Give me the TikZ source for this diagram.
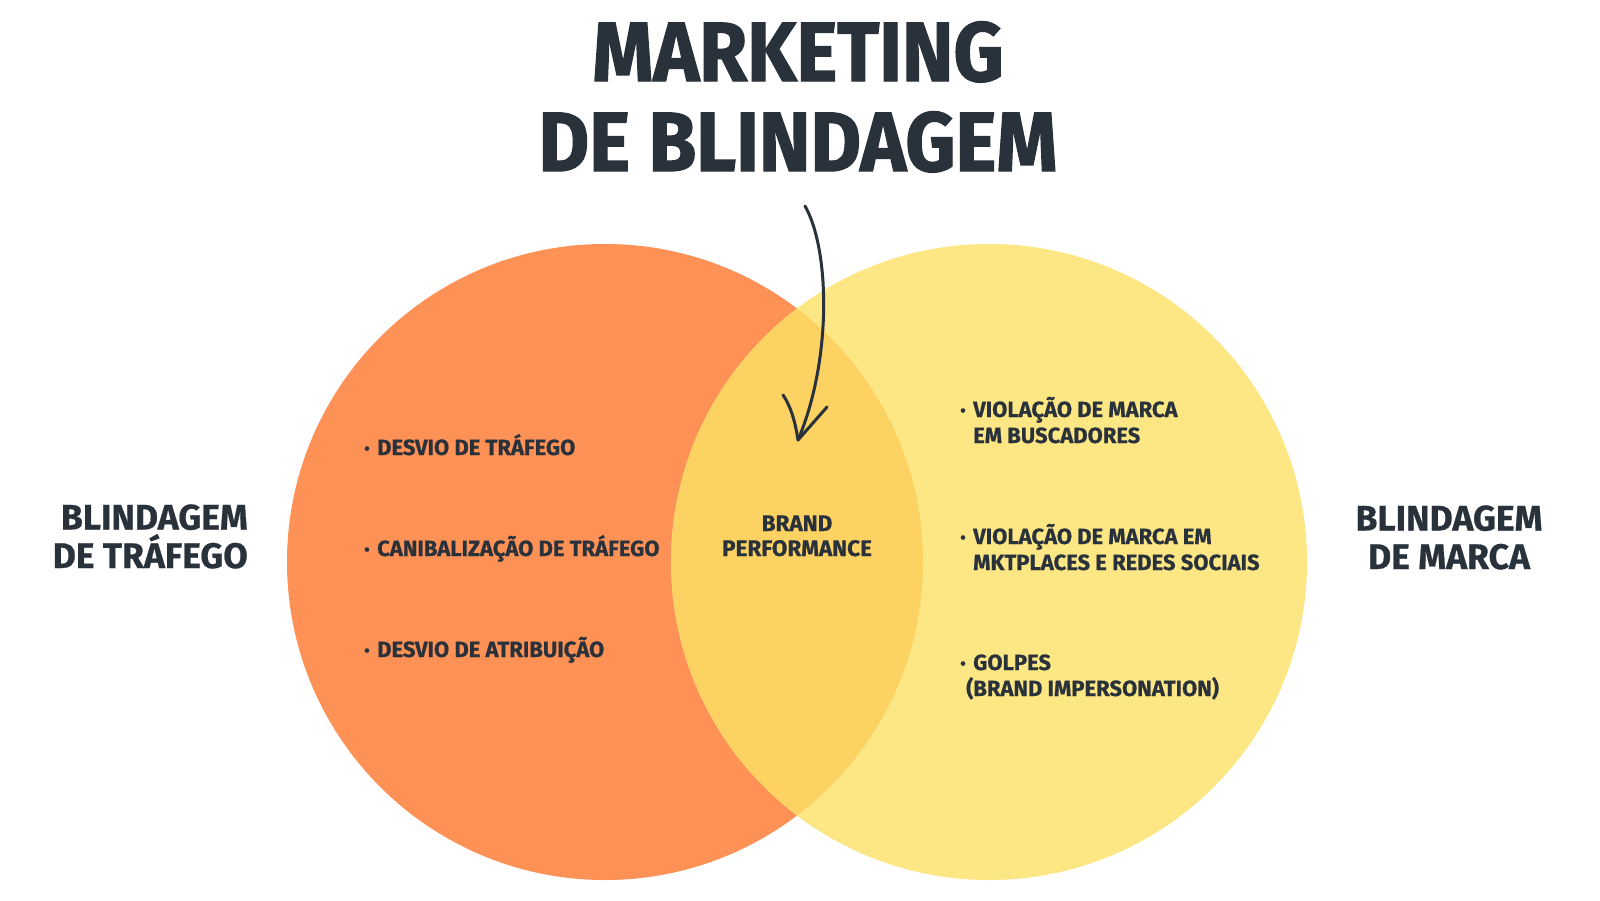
\documentclass[tikz,border=0pt]{standalone}
\usepackage{fontspec}
\setmainfont{Fira Sans}[FakeBold=0.6]
\newfontfamily\titlefont{Fira Sans}[FakeStretch=0.925,FakeBold=1.5]
\definecolor{ink}{HTML}{29313B}
\definecolor{orangec}{HTML}{FE9156}
\definecolor{yellowc}{HTML}{FDE684}
\definecolor{overlapc}{HTML}{FCD363}
\newcommand{\bul}{\makebox[13pt][l]{\fontsize{16}{16}\selectfont\raisebox{1pt}{•}}}
\begin{document}
\begin{tikzpicture}[x=1pt,y=-1pt,
  txt/.style={text=ink,font=\bfseries,inner sep=0pt},
  title/.style={txt,font=\titlefont\fontsize{84}{90}\selectfont\bfseries,align=center},
  side/.style={txt,font=\fontsize{35.5}{38.5}\selectfont\bfseries},
  item/.style={txt,font=\fontsize{22}{26}\selectfont\bfseries,align=left,anchor=base west},
  arrowline/.style={draw=ink,line width=3pt,line cap=round,line join=round}]
\useasboundingbox (0,0) rectangle (1600,900);
\fill[white] (0,0) rectangle (1600,900);
% circles
\fill[orangec] (605,562) circle[radius=318];
\fill[yellowc] (989,562) circle[radius=318];
\begin{scope}
  \clip (605,562) circle[radius=318];
  \fill[overlapc] (989,562) circle[radius=318];
\end{scope}
% title
\node[title,anchor=base] (t) at (798,171) {MARKETING\\DE BLINDAGEM};
% side labels
\node[side,anchor=base east,align=right] (sl) at (248,568) {BLINDAGEM\\DE TRÁFEGO};
\node[side,anchor=base,align=center] (sr) at (1449,569) {BLINDAGEM\\DE MARCA};
% center
\node[txt,font=\fontsize{22.5}{25}\selectfont\bfseries,align=center,anchor=base] (c) at (797,556) {BRAND\\PERFORMANCE};
% left items
\node[item] (l1) at (364,455) {\bul DESVIO DE TRÁFEGO};
\node[item] (l2) at (364,556) {\bul CANIBALIZAÇÃO DE TRÁFEGO};
\node[item] (l3) at (364,657) {\bul DESVIO DE ATRIBUIÇÃO};
% right items
\node[item] (r1) at (960,443) {\bul VIOLAÇÃO DE MARCA\\\hspace{13pt}EM BUSCADORES};
\node[item] (r2) at (960,570) {\bul VIOLAÇÃO DE MARCA EM\\\hspace{13pt}MKTPLACES E REDES SOCIAIS};
\node[item] (r3) at (960,696) {\bul GOLPES\\\hspace{6pt}(BRAND IMPERSONATION)};
% arrow
\coordinate (a0) at (805,206);
\coordinate (tip) at (798,440);
\coordinate (al) at (783,395);
\coordinate (ar) at (827,407);
\draw[arrowline] (a0) .. controls (830,250) and (832,360) .. (tip);
\draw[arrowline] (al) .. controls (790,405) and (795,420) .. (tip) -- (ar);
\end{tikzpicture}
\end{document}
